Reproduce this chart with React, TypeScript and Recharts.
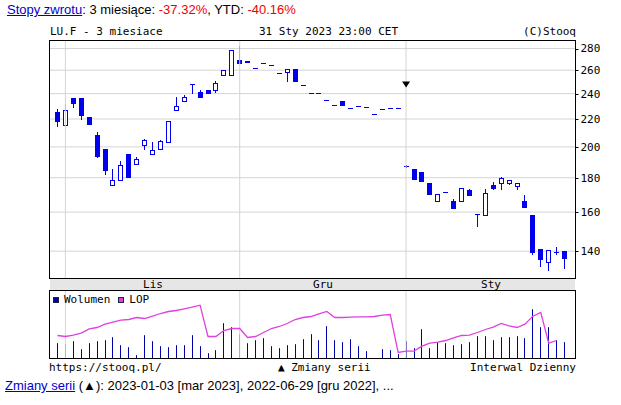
import React from 'react';
import {
  Bar,
  ComposedChart,
  CartesianGrid,
  Legend,
  Line,
  ReferenceDot,
  ReferenceLine,
  XAxis,
  YAxis,
} from 'recharts';

// trading days, Oct 31 2022 - Jan 31 2023
const tradingDays: [string, number[]][] = [
  ['2022-10', [31]],
  ['2022-11', [1, 2, 3, 4, 7, 8, 9, 10, 11, 14, 15, 16, 17, 18, 21, 22, 23, 24, 25, 28, 29, 30]],
  ['2022-12', [1, 2, 5, 6, 7, 8, 9, 12, 13, 14, 15, 16, 19, 20, 21, 22, 23, 27, 28, 29, 30]],
  ['2023-01', [3, 4, 5, 6, 9, 10, 11, 12, 13, 16, 17, 18, 19, 20, 23, 24, 25, 26, 27, 30, 31]],
];
const dates = tradingDays.flatMap(([m, days]) => days.map((d) => `${m}-${String(d).padStart(2, '0')}`));

const open = [
  225.7, 215.6, 236.2, 236.2, 221.6, 208.3, 198.9, 175.3, 178.8, 195.2, 188.5, 201.0, 195.0, 198.9, 203.2,
  226.9, 233.9, 247.9, 241.5, 242.6, 242.6, 256.2, 256.2, 269.5, 268.5, 262.2, 266.7, 264.6, 257.1, 258.5,
  261.2, 247.4, 240.3, 240.3, 234.6, 231.0, 233.9, 228.5, 230.0, 229.2, 224.1, 228.0, 228.5, 228.5, 187.4,
  185.2, 183.5, 176.5, 166.1, 171.3, 166.1, 166.1, 172.4, 159.0, 158.6, 175.5, 176.9, 176.9, 174.9, 166.1,
  158.3, 141.1, 135.0, 139.4, 140.0,
];
const high = [
  228.0, 231.8, 236.2, 236.2, 221.6, 210.5, 198.9, 185.6, 190.6, 195.2, 193.0, 205.5, 203.5, 204.8, 218.5,
  236.9, 238.7, 247.9, 242.9, 242.6, 250.3, 260.0, 278.8, 282.0, 268.5, 262.2, 266.7, 264.6, 257.1, 260.9,
  261.2, 247.4, 240.3, 240.3, 234.6, 231.0, 233.9, 228.5, 230.0, 229.2, 224.1, 228.0, 228.5, 228.5, 188.2,
  185.2, 183.5, 176.5, 170.5, 171.3, 167.2, 173.6, 173.0, 159.0, 173.0, 177.3, 180.4, 178.8, 176.5, 169.7,
  158.3, 141.1, 140.6, 141.8, 140.0,
];
const low = [
  214.6, 215.6, 229.0, 220.3, 216.1, 193.3, 182.4, 175.3, 178.8, 180.4, 188.5, 198.5, 195.0, 198.9, 203.2,
  226.9, 233.9, 240.6, 237.4, 240.9, 241.5, 256.2, 256.2, 266.1, 267.5, 262.2, 266.7, 264.6, 257.1, 250.6,
  250.3, 247.4, 240.3, 240.3, 234.6, 231.0, 230.8, 228.5, 230.0, 229.2, 224.1, 228.0, 228.5, 228.5, 186.8,
  179.2, 178.1, 170.5, 166.1, 171.3, 162.5, 166.1, 169.9, 152.8, 158.6, 173.4, 173.4, 176.1, 173.2, 162.7,
  138.7, 133.2, 131.1, 138.8, 132.3,
];
const close = [
  218.3, 226.7, 232.3, 222.8, 216.1, 194.0, 184.8, 178.8, 187.8, 180.4, 192.0, 204.6, 197.8, 204.1, 218.3,
  230.0, 237.4, 247.9, 237.4, 240.9, 249.1, 260.0, 278.8, 266.1, 267.5, 262.2, 266.7, 264.6, 257.1, 260.9,
  250.3, 247.4, 240.3, 240.3, 234.6, 231.0, 230.8, 228.5, 230.0, 229.2, 224.1, 228.0, 228.5, 228.5, 187.4,
  179.2, 178.1, 170.5, 170.5, 171.3, 162.5, 173.6, 169.9, 159.0, 170.7, 174.0, 179.6, 178.8, 176.5, 162.7,
  139.8, 136.2, 140.6, 139.4, 136.7,
];
const volume = [
  46, 43, 52, 28, 46, 52, 55, 64, 40, 34, 10, 70, 52, 37, 34, 40, 40, 70, 37, 16, 25, 106, 94, 73, 46, 55,
  61, 37, 31, 40, 43, 58, 73, 55, 97, 55, 49, 58, 37, 22, 0, 28, 25, 13, 52, 31, 88, 31, 49, 46, 40, 43, 49,
  67, 67, 55, 64, 64, 67, 61, 148, 94, 94, 55, 49,
];
const lop: (number | null)[] = [
  69, 66, 70, 76, 89, 93, 103, 109, 115, 117, 123, 120, 127, 135, 141, 144, 149, 154, 160, 66, 66, 84, 90,
  90, 63, 66, 78, 90, 96, 105, 117, 123, 126, 134, 141, 123, 123, 124, 125, 125, 126, 130, 132, 18, 22, 22,
  37, 46, 49, 54, 62, 69, 70, 78, 87, 94, 105, 98, 93, 103, 127, 138, 46, 54, null,
];

const priceTicks = [140, 160, 180, 200, 220, 240, 260, 280];
const monthStarts = ['2022-11-01', '2022-12-01', '2023-01-03'];
const monthLabels = ['Lis', 'Gru', 'Sty'];
const legendOrder = ['Wolumen', 'LOP'];
const seriesChanges = [{ date: '2023-01-03', level: 247.5 }];

const rows = dates.map((date, i) => ({
  date,
  open: open[i],
  high: high[i],
  low: low[i],
  close: close[i],
  range: [low[i], high[i]],
  volume: volume[i],
  lop: lop[i],
}));

const MONO = "'DejaVu Sans Mono', monospace";
const SANS = "'Liberation Sans', Arial, sans-serif";
const CANDLE = '#0000ee';
const VOL = '#0000aa';
const LOPC = '#e040e0';
const GRID = '#d4d4d4';
const PAD = { left: 4, right: 7 };
const PRICE_DOMAIN: [number, number] = [127.5, 287.8];

function Candle(props: any) {
  const { x, y, width, height, payload } = props;
  const { open: o, high: h, low: l, close: c } = payload;
  const cx = Math.round(x + width / 2);
  const span = Math.log(h) - Math.log(l);
  const py = (v: number) => (span > 0 ? y + ((Math.log(h) - Math.log(v)) / span) * height : y);
  const wTop = Math.round(y);
  const wBot = Math.round(y + height);
  const top = Math.round(py(Math.max(o, c)));
  const bot = Math.round(py(Math.min(o, c)));
  return (
    <g>
      <rect x={cx} y={wTop} width={1} height={wBot - wTop + 1} fill={CANDLE} />
      {bot - top < 1 ? (
        <rect x={cx - 2} y={top} width={5} height={1} fill={CANDLE} />
      ) : c < o ? (
        <rect x={cx - 2} y={top} width={5} height={bot - top + 1} fill={CANDLE} />
      ) : (
        <rect x={cx - 1.5} y={top + 0.5} width={4} height={bot - top} fill="#fff" stroke={CANDLE} />
      )}
    </g>
  );
}

function VolumeBar(props: any) {
  const { x, y, width, height } = props;
  if (!height) return null;
  const cx = Math.round(x + width / 2);
  return <rect x={cx} y={y} width={1} height={height} fill={VOL} />;
}

function Triangle(props: any) {
  const { cx, cy } = props;
  return <polygon points={`${cx - 4},${cy - 3} ${cx + 4},${cy - 3} ${cx},${cy + 3}`} fill="#000" />;
}

// tick marks drawn by hand; labels only on the right axis
function PriceTick(props: any) {
  const { x, y, payload, side } = props;
  const py = Math.round(y) + 0.5;
  if (side === 'left') {
    return <line x1={x} x2={x + 4} y1={py} y2={py} stroke="#000" />;
  }
  return (
    <g>
      <line x1={x} x2={x + 3} y1={py} y2={py} stroke="#000" />
      <text x={x + 5} y={y} dy="0.36em" fill="#000" fontSize={11} fontFamily={MONO}>
        {payload.value}
      </text>
    </g>
  );
}

function MonthTick(props: any) {
  const { x, y, side } = props;
  const px = Math.round(x) + 0.5;
  return <line x1={px} x2={px} y1={y} y2={side === 'top' ? y + 3 : y - 3} stroke="#000" />;
}

function VolumeLegend(props: any) {
  const items = [...(props.payload || [])].sort(
    (a: any, b: any) => legendOrder.indexOf(a.value) - legendOrder.indexOf(b.value),
  );
  return (
    <div style={{ display: 'flex', fontFamily: MONO, fontSize: 11, lineHeight: '13px', color: '#000' }}>
      {items.map((it: any) => (
        <div key={it.value} style={{ display: 'flex', alignItems: 'center', marginRight: 8 }}>
          <span
            style={{
              display: 'inline-block',
              width: 4,
              height: 4,
              background: it.color,
              border: '1px solid #202040',
              marginRight: 5,
            }}
          />
          {it.value}
        </div>
      ))}
    </div>
  );
}

const box = (top: number, height: number): React.CSSProperties => ({
  position: 'absolute',
  left: 49,
  top,
  width: 527,
  height,
  boxSizing: 'border-box',
  border: '1px solid #000',
  pointerEvents: 'none',
});

export default function App() {
  const monthLabelX = [153, 323, 491];
  return (
    <div style={{ position: 'absolute', left: 0, top: 0, width: 621, height: 405, background: '#fff' }}>
      <div style={{ position: 'absolute', left: 7, top: 2, fontFamily: SANS, fontSize: 13, lineHeight: '15px', whiteSpace: 'nowrap' }}>
        <span style={{ color: '#0000cc', textDecoration: 'underline' }}>Stopy zwrotu</span>: 3 miesiące:{' '}
        <span style={{ color: '#e00' }}>-37.32%</span>, YTD: <span style={{ color: '#e00' }}>-40.16%</span>
      </div>

      <div style={{ position: 'absolute', left: 0, top: 25, width: 621, fontFamily: MONO, fontSize: 11, lineHeight: '13px' }}>
        <span style={{ position: 'absolute', left: 50 }}>LU.F - 3 miesiace</span>
        <span style={{ position: 'absolute', left: 259 }}>31 Sty 2023 23:00 CET</span>
        <span style={{ position: 'absolute', right: 45 }}>(C)Stooq</span>
      </div>

      <div style={{ position: 'absolute', left: 50, top: 279, width: 525, height: 11, background: '#e6e6e6' }}>
        {monthLabels.map((m, i) => (
          <span key={m} style={{ position: 'absolute', left: monthLabelX[i] - 50, top: -1, transform: 'translateX(-50%)',
            fontFamily: MONO, fontSize: 11, lineHeight: '13px' }}>{m}</span>
        ))}
      </div>

      <div style={{ position: 'absolute', left: 0, top: 0 }}>
        <ComposedChart width={621} height={279} data={rows} margin={{ top: 40.5, right: 0, bottom: 0.5, left: 49.5 }}>
          <CartesianGrid xAxisId="b" yAxisId="p" vertical={false} stroke={GRID} />
          <XAxis xAxisId="t" orientation="top" dataKey="date" height={0} mirror ticks={monthStarts} interval={0}
            tick={<MonthTick side="top" />} tickSize={0} tickMargin={0} tickLine={false} axisLine={false} padding={PAD} />
          <XAxis xAxisId="b" orientation="bottom" dataKey="date" height={0} mirror ticks={monthStarts} interval={0}
            tick={<MonthTick side="bottom" />} tickSize={0} tickMargin={0} tickLine={false} axisLine={false} padding={PAD} />
          <YAxis yAxisId="l" orientation="left" width={0} mirror scale="log" domain={PRICE_DOMAIN} allowDataOverflow
            ticks={priceTicks} interval={0} tick={<PriceTick side="left" />} tickSize={0} tickMargin={0}
            tickLine={false} axisLine={false} />
          <YAxis yAxisId="p" orientation="right" width={45.5} scale="log" domain={PRICE_DOMAIN} allowDataOverflow
            ticks={priceTicks} interval={0} tick={<PriceTick side="right" />} tickSize={0} tickMargin={0}
            tickLine={false} axisLine={false} />
          {monthStarts.map((d) => (
            <ReferenceLine key={d} xAxisId="b" yAxisId="p" x={d} stroke={GRID} />
          ))}
          <Bar xAxisId="b" yAxisId="p" dataKey="range" barSize={5} shape={<Candle />} isAnimationActive={false} />
          {seriesChanges.map((s) => (
            <ReferenceDot key={s.date} xAxisId="b" yAxisId="p" x={s.date} y={s.level} shape={<Triangle />} />
          ))}
        </ComposedChart>
      </div>
      <div style={box(40, 239)} />

      <div style={{ position: 'absolute', left: 0, top: 290 }}>
        <ComposedChart width={621} height={69} data={rows} margin={{ top: 0.5, right: 45.5, bottom: 0.5, left: 49.5 }}>
          <XAxis xAxisId="b" dataKey="date" hide padding={PAD} />
          <YAxis yAxisId="v" domain={[0, 204]} allowDataOverflow hide />
          <YAxis yAxisId="o" orientation="right" domain={[0, 204]} allowDataOverflow hide />
          {monthStarts.map((d) => (
            <ReferenceLine key={d} xAxisId="b" yAxisId="v" x={d} stroke={GRID} />
          ))}
          <Bar xAxisId="b" yAxisId="v" dataKey="volume" name="Wolumen" fill={VOL} barSize={1} shape={<VolumeBar />} isAnimationActive={false} />
          <Line xAxisId="b" yAxisId="o" dataKey="lop" name="LOP" stroke={LOPC} strokeWidth={1.3} dot={false} isAnimationActive={false} />
          <Legend layout="horizontal" verticalAlign="middle" align="center" content={<VolumeLegend />}
            wrapperStyle={{ position: 'absolute', left: 53, top: 3, width: 'auto', height: 'auto' }} />
        </ComposedChart>
      </div>
      <div style={box(290, 69)} />

      <div style={{ position: 'absolute', left: 0, top: 361, width: 621, fontFamily: MONO, fontSize: 11, lineHeight: '13px' }}>
        <span style={{ position: 'absolute', left: 49 }}>https://stooq.pl/</span>
        <span style={{ position: 'absolute', left: 278 }}>▲ Zmiany serii</span>
        <span style={{ position: 'absolute', right: 45 }}>Interwal Dzienny</span>
      </div>

      <div style={{ position: 'absolute', left: 5, top: 378, fontFamily: SANS, fontSize: 13, lineHeight: '15px', whiteSpace: 'nowrap' }}>
        <span style={{ color: '#0000cc', textDecoration: 'underline' }}>Zmiany serii</span> (▲): 2023-01-03 [mar 2023], 2022-06-29 [gru 2022], ...
      </div>
    </div>
  );
}
